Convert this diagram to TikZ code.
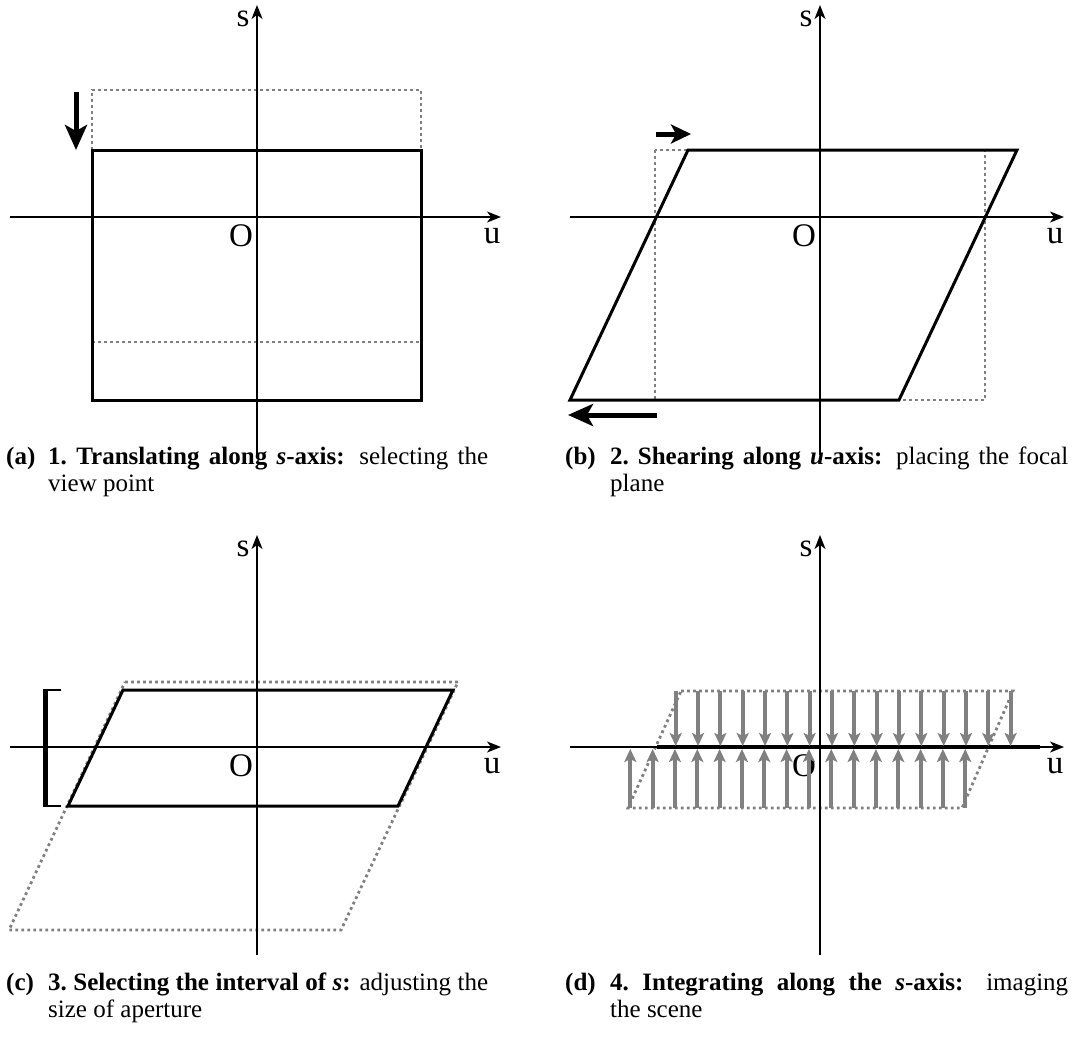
\documentclass[tikz,border=0pt]{standalone}
\usepackage{fontspec}
\setmainfont{Liberation Serif}
\usetikzlibrary{arrows.meta}
\definecolor{dotgray}{gray}{0.5}
\definecolor{arrgray}{gray}{0.5}
\begin{document}
\begin{tikzpicture}[x=1pt,y=-1pt,
  axis/.style={line width=1.5pt,-{Stealth[length=14pt,width=11pt,inset=4pt]}},
  solidshape/.style={line width=3pt,line join=miter},
  dottedshape/.style={line width=2.8pt,draw=dotgray,dash pattern=on 2.8pt off 3.2pt},
  bigarrow/.style={line width=5pt,-{Stealth[length=25pt,width=22pt,inset=6pt]}},
  midarrow/.style={line width=5pt,-{Stealth[length=20pt,width=19pt,inset=5pt]}},
  grayarrow/.style={line width=4pt,draw=arrgray,-{Stealth[length=13pt,width=12pt,inset=3pt]},shorten >=-1pt},
  axlabel/.style={font=\fontsize{33}{35}\selectfont,inner sep=0pt},
  caplabel/.style={font=\fontsize{25}{27}\selectfont\bfseries,inner sep=0pt,anchor=base west},
  captext/.style={inner sep=0pt,anchor=base west},
]
\useasboundingbox (0,0) rectangle (1076,1036);

% ---------------- panel (a)
\draw[dottedshape] (92,150) -- (92,90) -- (421,90) -- (421,150);
\draw[dottedshape] (92,342) -- (421,342);
\draw[solidshape] (92,150) rectangle (421,400);
\draw[axis] (10,217) -- (501,217);
\draw[axis] (257,455) -- (257,5);
\node[axlabel] (sa) at (243,19) {s};
\node[axlabel] (ua) at (492,236) {u};
\node[axlabel] (oa) at (241,236) {O};
\coordinate (a1) at (76,92);
\coordinate (a2) at (76,150);
\draw[bigarrow] (a1) -- (a2);

% ---------------- panel (b)
\draw[dottedshape] (655,150) rectangle (985,400);
\draw[solidshape] (688,150) -- (1017,150) -- (899,400) -- (570,400) -- cycle;
\draw[axis] (570,217) -- (1064,217);
\draw[axis] (820,455) -- (820,5);
\node[axlabel] (sb) at (806,19) {s};
\node[axlabel] (ub) at (1055,236) {u};
\node[axlabel] (ob) at (804,236) {O};
\coordinate (b1) at (656,134);
\coordinate (b2) at (691,134);
\draw[midarrow] (b1) -- (b2);
\coordinate (b3) at (657,415);
\coordinate (b4) at (568,415);
\draw[bigarrow] (b3) -- (b4);

% ---------------- panel (c)
\draw[dottedshape] (125,682) -- (458,682) -- (341,930) -- (9,930) -- cycle;
\draw[solidshape] (123,690) -- (453,690) -- (398,806) -- (68,806) -- cycle;
\draw[axis] (10,747) -- (501,747);
\draw[axis] (257,955) -- (257,535);
\node[axlabel] (sc) at (243,549) {s};
\node[axlabel] (uc) at (492,766) {u};
\node[axlabel] (oc) at (241,766) {O};
\draw[line width=2.2pt] (61,690) -- (45,690) (45,806) -- (61,806);
\draw[line width=5pt] (45,689) -- (45,807);

% ---------------- panel (d)
\draw[dottedshape] (681,691) -- (1013,691) -- (962,808) -- (628,808) -- cycle;
\draw[axis] (570,747) -- (1064,747);
\draw[axis] (820,955) -- (820,535);
\node[axlabel] (sd) at (806,549) {s};
\node[axlabel] (ud) at (1055,766) {u};
\node[axlabel] (od) at (804,766) {O};
\draw[line width=4pt] (657,747) -- (1040,747);
\foreach \k in {0,...,15}{
  \coordinate (dt\k) at ({675.7+22.33*\k},691);
  \coordinate (db\k) at ({675.7+22.33*\k},745);
  \draw[grayarrow] (dt\k) -- (db\k);
  \coordinate (ut\k) at ({630.3+22.33*\k},808);
  \coordinate (ub\k) at ({630.3+22.33*\k},750);
  \draw[grayarrow] (ut\k) -- (ub\k);
}

% ---------------- captions
\node[caplabel] (la) at (6,464) {(a)};
\node[captext] (ta) at (48,464) {\parbox[t]{440pt}{\fontsize{25}{27}\selectfont\textbf{1.~Translating along \textit{s}-axis:} selecting the\linebreak view point}};
\node[caplabel] (lb) at (565,464) {(b)};
\node[captext] (tb) at (610,464) {\parbox[t]{458pt}{\fontsize{25}{27}\selectfont\textbf{2.~Shearing along \textit{u}-axis:} placing the focal\linebreak plane}};
\node[caplabel] (lc) at (6,990) {(c)};
\node[captext] (tc) at (48,990) {\parbox[t]{440pt}{\fontsize{25}{27}\selectfont\textbf{3.~Selecting the interval of \textit{s}:} adjusting the\linebreak size of aperture}};
\node[caplabel] (ld) at (565,990) {(d)};
\node[captext] (td) at (610,990) {\parbox[t]{458pt}{\fontsize{25}{27}\selectfont\textbf{4.~Integrating along the \textit{s}-axis:} imaging\linebreak the scene}};
\end{tikzpicture}
\end{document}
